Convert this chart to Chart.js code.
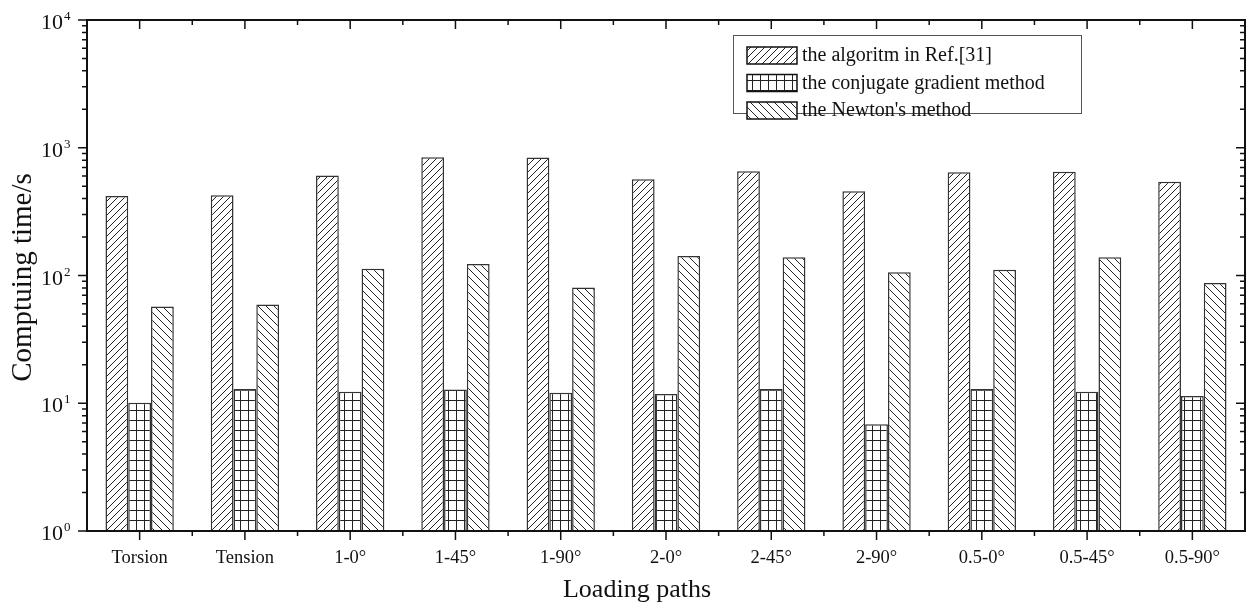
<!DOCTYPE html>
<html>
<head>
<meta charset="utf-8">
<script src="https://cdn.jsdelivr.net/npm/chart.js@4.4.1/dist/chart.umd.min.js"></script>
<style>
    html, body { margin: 0; padding: 0; background: #fff; }
    #chart { display: block; }
</style>
</head>
<body>
<canvas id="chart" width="1253" height="607"></canvas>
<script>
const categories = ['Torsion', 'Tension', '1-0°', '1-45°', '1-90°', '2-0°', '2-45°', '2-90°', '0.5-0°', '0.5-45°', '0.5-90°'];

const refAlgorithm = [420, 425, 606, 844, 838, 568, 656, 457, 644, 648, 543];
const conjugateGradient = [10.1, 12.9, 12.3, 12.8, 12.1, 11.8, 12.9, 6.85, 12.9, 12.3, 11.4];
const newtonMethod = [57.1, 59.2, 112.7, 123, 80.4, 142.3, 139, 106, 111, 139, 87.5];

const seriesNames = ['the algoritm in Ref.[31]', 'the conjugate gradient method', "the Newton's method"];

const yTickValues = [1, 10, 100, 1000, 10000];
const yTickExponents = ['0', '1', '2', '3', '4'];

const FONT = "'Liberation Serif', 'DejaVu Serif', serif";
const INK = '#111';

function makePattern(kind) {
    const c = document.createElement('canvas');
    const ctx = c.getContext('2d');
    if (kind === 'grid') {
        c.width = 8; c.height = 10;
        ctx.fillStyle = '#fff';
        ctx.fillRect(0, 0, 8, 10);
        ctx.strokeStyle = '#222';
        ctx.lineWidth = 1;
        ctx.beginPath();
        ctx.moveTo(0.5, 0); ctx.lineTo(0.5, 10);
        ctx.moveTo(0, 0.5); ctx.lineTo(8, 0.5);
        ctx.stroke();
    } else {
        const s = kind === 'fwd' ? 7 : 8;
        c.width = s; c.height = s;
        ctx.fillStyle = '#fff';
        ctx.fillRect(0, 0, s, s);
        ctx.strokeStyle = '#222';
        ctx.lineWidth = 1;
        ctx.beginPath();
        if (kind === 'fwd') {
            ctx.moveTo(-1, s + 1); ctx.lineTo(s + 1, -1);
            ctx.moveTo(-1, 1); ctx.lineTo(1, -1);
            ctx.moveTo(s - 1, s + 1); ctx.lineTo(s + 1, s - 1);
        } else {
            ctx.moveTo(-1, -1); ctx.lineTo(s + 1, s + 1);
            ctx.moveTo(s - 1, -1); ctx.lineTo(s + 1, 1);
            ctx.moveTo(-1, s - 1); ctx.lineTo(1, s + 1);
        }
        ctx.stroke();
    }
    return document.getElementById('chart').getContext('2d').createPattern(c, 'repeat');
}

const patterns = [makePattern('fwd'), makePattern('grid'), makePattern('back')];

// frame, ticks, labels and the in-plot legend
const framePlugin = {
    id: 'frame',
    afterDatasetsDraw(chart) {
        const ctx = chart.ctx;
        const area = chart.chartArea;
        const x = chart.scales.x;
        const y = chart.scales.y;
        const { left, right, top, bottom } = area;

        ctx.save();
        ctx.strokeStyle = INK;
        ctx.lineWidth = 2;
        ctx.strokeRect(left, top, right - left, bottom - top);

        ctx.lineWidth = 1.5;
        ctx.beginPath();
        // y ticks: outward on the left, inward on the right
        for (let d = 0; d < yTickValues.length; d++) {
            const base = yTickValues[d];
            const py = y.getPixelForValue(base);
            ctx.moveTo(left - 9, py); ctx.lineTo(left, py);
            ctx.moveTo(right, py); ctx.lineTo(right - 9, py);
            if (d < yTickValues.length - 1) {
                for (let m = 2; m <= 9; m++) {
                    const pm = y.getPixelForValue(base * m);
                    ctx.moveTo(left - 5, pm); ctx.lineTo(left, pm);
                    ctx.moveTo(right, pm); ctx.lineTo(right - 5, pm);
                }
            }
        }
        // x ticks: outward at bottom, inward at top
        const half = (x.getPixelForValue(1) - x.getPixelForValue(0)) / 2;
        categories.forEach((c, i) => {
            const px = x.getPixelForValue(i);
            ctx.moveTo(px, bottom); ctx.lineTo(px, bottom + 9);
            ctx.moveTo(px, top); ctx.lineTo(px, top + 9);
            if (i < categories.length - 1) {
                const pb = px + half;
                ctx.moveTo(pb, bottom); ctx.lineTo(pb, bottom + 5);
                ctx.moveTo(pb, top); ctx.lineTo(pb, top + 5);
            }
        });
        ctx.stroke();

        ctx.fillStyle = INK;
        // y tick labels 10^n
        yTickValues.forEach((v, i) => {
            const py = y.getPixelForValue(v);
            ctx.font = `22px ${FONT}`;
            ctx.textAlign = 'right';
            ctx.textBaseline = 'alphabetic';
            ctx.fillText('10', 63, py + 9);
            ctx.font = `13px ${FONT}`;
            ctx.textAlign = 'left';
            ctx.fillText(yTickExponents[i], 64, py);
        });

        // x tick labels
        ctx.font = `18.5px ${FONT}`;
        ctx.textAlign = 'center';
        ctx.textBaseline = 'alphabetic';
        categories.forEach((c, i) => {
            ctx.fillText(c, x.getPixelForValue(i), 563);
        });

        // axis titles
        ctx.font = `26px ${FONT}`;
        ctx.fillText('Loading paths', 637, 597);
        ctx.save();
        ctx.font = `29px ${FONT}`;
        ctx.translate(23, (top + bottom) / 2 + 2);
        ctx.rotate(-Math.PI / 2);
        ctx.textBaseline = 'middle';
        ctx.fillText('Comptuing time/s', 0, 0);
        ctx.restore();

        // legend
        ctx.lineWidth = 1;
        ctx.strokeStyle = '#555';
        ctx.strokeRect(733.5, 35.5, 348, 78);
        ctx.font = `20px ${FONT}`;
        ctx.textAlign = 'left';
        ctx.textBaseline = 'middle';
        seriesNames.forEach((name, i) => {
            const ry = 47 + i * 27.5;
            ctx.fillStyle = patterns[i];
            ctx.fillRect(747, ry, 50, 17);
            ctx.lineWidth = 1.5;
            ctx.strokeStyle = INK;
            ctx.strokeRect(747, ry, 50, 17);
            ctx.fillStyle = INK;
            ctx.fillText(name, 802, ry + 9);
        });
        ctx.restore();
    }
};

const barStyle = {
    borderColor: '#333',
    borderWidth: 1.5,
    categoryPercentage: 0.649,
    barPercentage: 1.0
};

new Chart(document.getElementById('chart'), {
    type: 'bar',
    data: {
        labels: categories,
        datasets: [
            { label: seriesNames[0], data: refAlgorithm, backgroundColor: patterns[0], ...barStyle },
            { label: seriesNames[1], data: conjugateGradient, backgroundColor: patterns[1], ...barStyle },
            { label: seriesNames[2], data: newtonMethod, backgroundColor: patterns[2], ...barStyle }
        ]
    },
    options: {
        responsive: false,
        animation: false,
        layout: { padding: { left: 0, right: 8, top: 20, bottom: 0 } },
        plugins: {
            legend: { display: false },
            tooltip: { enabled: false }
        },
        scales: {
            x: {
                type: 'category',
                grid: { display: false },
                border: { display: false },
                ticks: { display: false },
                afterFit(s) { s.height = 76; }
            },
            y: {
                type: 'logarithmic',
                min: 1,
                max: 10000,
                grid: { display: false },
                border: { display: false },
                ticks: { display: false },
                afterFit(s) { s.width = 87; }
            }
        }
    },
    plugins: [framePlugin]
});
</script>
</body>
</html>
